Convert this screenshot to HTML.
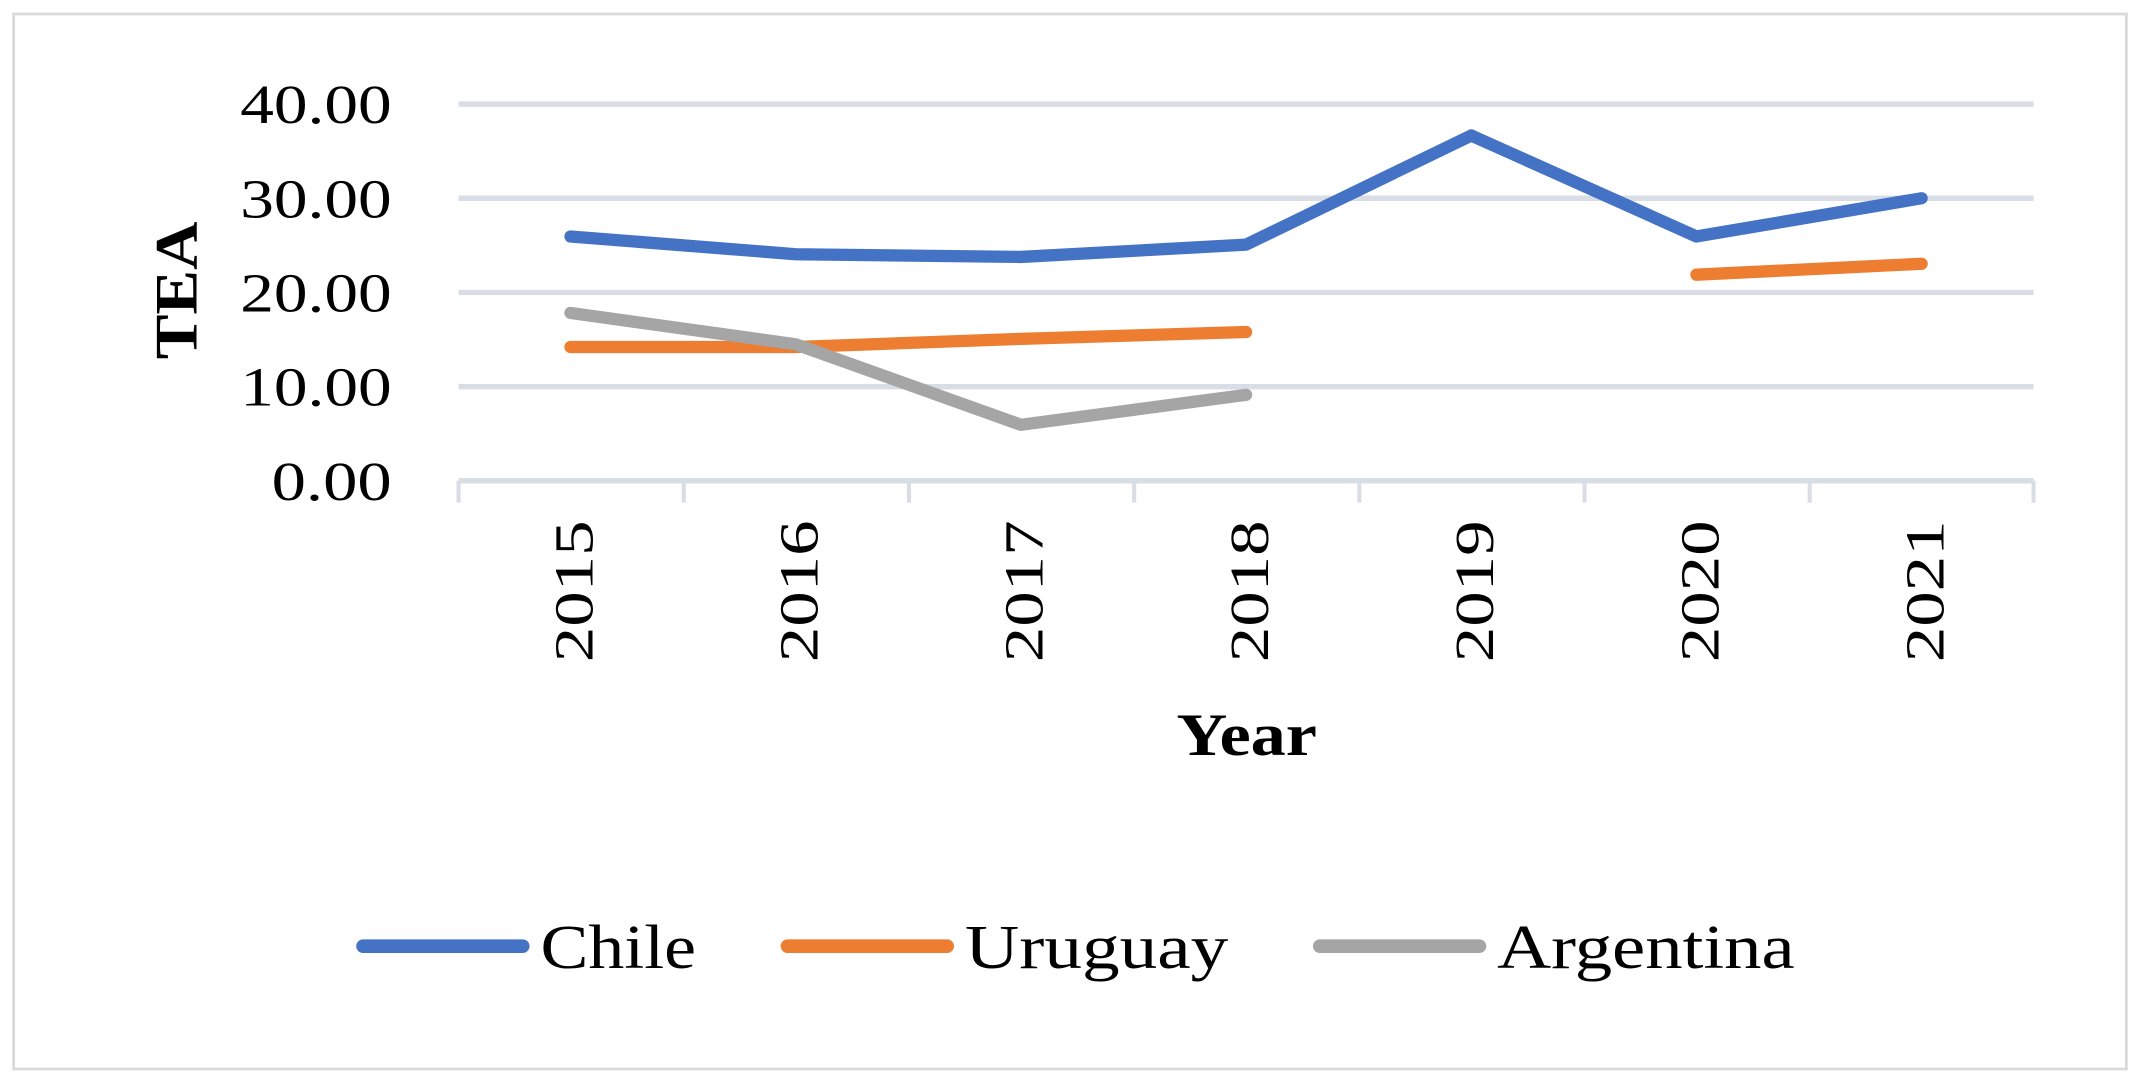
<!DOCTYPE html>
<html><head><style>html,body{margin:0;padding:0;background:#fff}svg{display:block}</style></head>
<body>
<svg width="2140" height="1083" viewBox="0 0 1568 793" xmlns="http://www.w3.org/2000/svg" font-family="Liberation Serif, serif">
<rect x="10" y="10" width="1548" height="773" fill="#fff" stroke="#d9d9d9" stroke-width="2"/>
<g stroke="#d9dde6" stroke-width="4">
<line x1="336" y1="76" x2="1490" y2="76"/>
<line x1="336" y1="145" x2="1490" y2="145"/>
<line x1="336" y1="214" x2="1490" y2="214"/>
<line x1="336" y1="283" x2="1490" y2="283"/>
<line x1="336" y1="352" x2="1490" y2="352"/>
</g>
<g stroke="#d9dde6" stroke-width="3">
<line x1="336" y1="352" x2="336" y2="368"/><line x1="501" y1="352" x2="501" y2="368"/>
<line x1="666" y1="352" x2="666" y2="368"/><line x1="831" y1="352" x2="831" y2="368"/>
<line x1="996" y1="352" x2="996" y2="368"/><line x1="1161" y1="352" x2="1161" y2="368"/>
<line x1="1326" y1="352" x2="1326" y2="368"/><line x1="1490" y1="352" x2="1490" y2="368"/>
</g>
<g font-size="40" fill="#000" lengthAdjust="spacingAndGlyphs">
<text x="176" y="90" textLength="111" lengthAdjust="spacingAndGlyphs">40.00</text>
<text x="176" y="159" textLength="111" lengthAdjust="spacingAndGlyphs">30.00</text>
<text x="176" y="228" textLength="111" lengthAdjust="spacingAndGlyphs">20.00</text>
<text x="176" y="297" textLength="111" lengthAdjust="spacingAndGlyphs">10.00</text>
<text x="199" y="366" textLength="88" lengthAdjust="spacingAndGlyphs">0.00</text>
</g>
<g font-size="40" fill="#000">
<text transform="translate(434,485) rotate(-90)" textLength="104" lengthAdjust="spacingAndGlyphs">2015</text>
<text transform="translate(599,485) rotate(-90)" textLength="104" lengthAdjust="spacingAndGlyphs">2016</text>
<text transform="translate(764,485) rotate(-90)" textLength="104" lengthAdjust="spacingAndGlyphs">2017</text>
<text transform="translate(929,485) rotate(-90)" textLength="104" lengthAdjust="spacingAndGlyphs">2018</text>
<text transform="translate(1094,485) rotate(-90)" textLength="104" lengthAdjust="spacingAndGlyphs">2019</text>
<text transform="translate(1259,485) rotate(-90)" textLength="104" lengthAdjust="spacingAndGlyphs">2020</text>
<text transform="translate(1424,485) rotate(-90)" textLength="104" lengthAdjust="spacingAndGlyphs">2021</text>
</g>
<text x="862" y="553" font-size="44" font-weight="bold" textLength="103" lengthAdjust="spacingAndGlyphs">Year</text>
<text transform="translate(144,263) rotate(-90)" font-size="44" font-weight="bold" textLength="101" lengthAdjust="spacingAndGlyphs">TEA</text>
<g fill="none" stroke-width="9" stroke-linecap="round" stroke-linejoin="round">
<polyline stroke="#4472c4" points="418,173 583,186 748,188 913,179 1078,99 1243,173 1408,145"/>
<polyline stroke="#ed7d31" points="418,254 583,254 748,248 913,243"/>
<polyline stroke="#ed7d31" points="1243,201 1408,193"/>
<polyline stroke="#a5a5a5" points="418,229 583,252 748,311 913,289"/>
</g>
<g stroke-width="10" stroke-linecap="round">
<line x1="266" y1="693" x2="383" y2="693" stroke="#4472c4"/>
<line x1="577" y1="693" x2="694" y2="693" stroke="#ed7d31"/>
<line x1="967" y1="693" x2="1084" y2="693" stroke="#a5a5a5"/>
</g>
<g font-size="46" fill="#000">
<text x="396" y="709" textLength="114" lengthAdjust="spacingAndGlyphs">Chile</text>
<text x="707" y="709" textLength="193" lengthAdjust="spacingAndGlyphs">Uruguay</text>
<text x="1097" y="709" textLength="218" lengthAdjust="spacingAndGlyphs">Argentina</text>
</g>
</svg>
</body></html>
